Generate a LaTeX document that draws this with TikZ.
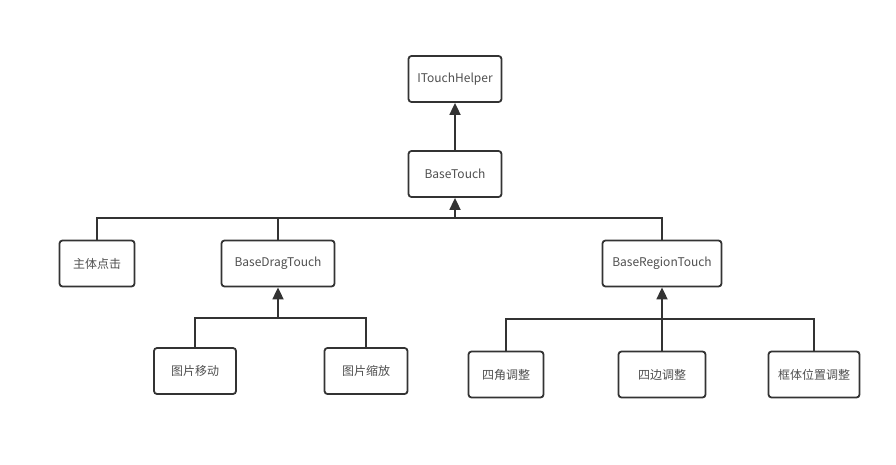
\documentclass[tikz,border=0pt]{standalone}
\usepackage{fontspec}
\setmainfont{Noto Sans CJK SC}
\usetikzlibrary{arrows.meta}
\definecolor{linec}{HTML}{333333}
\definecolor{textc}{HTML}{505050}
\begin{document}
\begin{tikzpicture}[x=1pt,y=-1pt,
  box/.style={draw=linec,line width=1.8pt,rounded corners=3pt,minimum height=46pt,text=textc,font=\fontsize{12}{14}\selectfont,inner sep=0pt,fill=white},
  conn/.style={draw=linec,line width=1.8pt},
  arr/.style={-{Triangle[length=12pt,width=11pt]}}]
\useasboundingbox (0,0) rectangle (896,465);
\node[box,minimum width=93pt] (ith) at (455,79) {ITouchHelper};
\node[box,minimum width=93pt] (base) at (455,174) {BaseTouch};
\node[box,minimum width=75pt] (zhuti) at (97,263.5) {主体点击};
\node[box,minimum width=113pt] (drag) at (278,263.5) {BaseDragTouch};
\node[box,minimum width=119pt] (region) at (662,263.5) {BaseRegionTouch};
\node[box,minimum width=82pt] (move) at (195,371) {图片移动};
\node[box,minimum width=83pt] (zoom) at (366,371) {图片缩放};
\node[box,minimum width=75pt] (corner) at (506,374.5) {四角调整};
\node[box,minimum width=87pt] (edge) at (662,374.5) {四边调整};
\node[box,minimum width=91pt] (frame) at (814,374.5) {框体位置调整};
% top
\draw[conn,arr] (base) -- (ith);
% level 1 bus
\coordinate (b1) at (455,218);
\draw[conn] (zhuti.north) |- (b1);
\draw[conn] (region.north) |- (b1);
\draw[conn] (drag.north) -- (drag.north |- b1);
\draw[conn,arr] (b1) -- (base.south);
% drag bus
\coordinate (b2) at (278,318);
\draw[conn] (move.north) |- (b2);
\draw[conn] (zoom.north) |- (b2);
\draw[conn,arr] (b2) -- (drag.south);
% region bus
\coordinate (b3) at (662,319);
\draw[conn] (corner.north) |- (b3);
\draw[conn] (frame.north) |- (b3);
\draw[conn] (edge.north) -- (b3);
\draw[conn,arr] (b3) -- (region.south);
\end{tikzpicture}
\end{document}
